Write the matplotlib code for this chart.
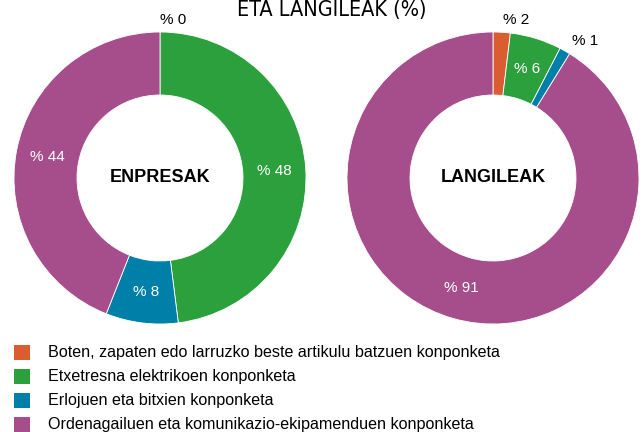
import matplotlib.pyplot as plt
import numpy as np

# DATA
categories = [
    'Boten, zapaten edo larruzko beste artikulu batzuen konponketa',
    'Etxetresna elektrikoen konponketa',
    'Erlojuen eta bitxien konponketa',
    'Ordenagailuen eta komunikazio-ekipamenduen konponketa',
]
enpresak = [0.0, 48.0, 8.0, 44.0]
langileak = [1.9, 5.7, 1.2, 91.2]
colors = ['#D95D30', '#2CA03C', '#0080A8', '#A64E8C']

plt.rcParams['font.family'] = ['Liberation Sans', 'DejaVu Sans']

W, H = 643, 432
fig = plt.figure(figsize=(W / 100, H / 100), dpi=100)
ax = fig.add_axes([0, 0, 1, 1])

R_OUT = 146
R_IN = 83


def donut(cx, cy, values, name):
    cy = H - cy
    ax.pie(values, colors=colors, startangle=90, counterclock=False,
           center=(cx, cy), radius=R_OUT,
           wedgeprops=dict(width=R_OUT - R_IN, edgecolor='white', linewidth=0.6))
    ax.text(cx, cy, name, ha='center', va='center', fontsize=13, fontweight='bold')
    total = sum(values)
    start = 0
    for v in values:
        mid = np.deg2rad((start + v / 2) / total * 360)
        start += v
        lbl = f'% {round(v)}'
        if v >= 4:
            r = (R_OUT + R_IN) / 2
            ax.text(cx + r * np.sin(mid), cy + r * np.cos(mid), lbl,
                    ha='center', va='center', color='white', fontsize=11)
        else:
            r = 160
            ax.text(cx + r * np.sin(mid), cy + r * np.cos(mid) - 2, lbl,
                    ha='left', va='center', color='black', fontsize=11)


donut(160, 178, enpresak, 'ENPRESAK')
donut(493, 178, langileak, 'LANGILEAK')

ax.set_xlim(0, W)
ax.set_ylim(0, H)
ax.set_aspect('auto')
ax.axis('off')

# title (only its lower part shows in the original)
fig.text(332 / W, 1 - 16 / H, 'ETA LANGILEAK (%)', ha='center', va='baseline',
         fontsize=15.5, family='DejaVu Sans', fontstretch='condensed')

# legend
for i, (cat, col) in enumerate(zip(categories, colors)):
    y = 352 + i * 24.3
    ax.add_patch(plt.Rectangle((14, H - y - 7.5), 16, 15, color=col, lw=0))
    ax.text(48, H - y, cat, ha='left', va='center', fontsize=11.6)

fig.savefig('out.png', dpi=100)
